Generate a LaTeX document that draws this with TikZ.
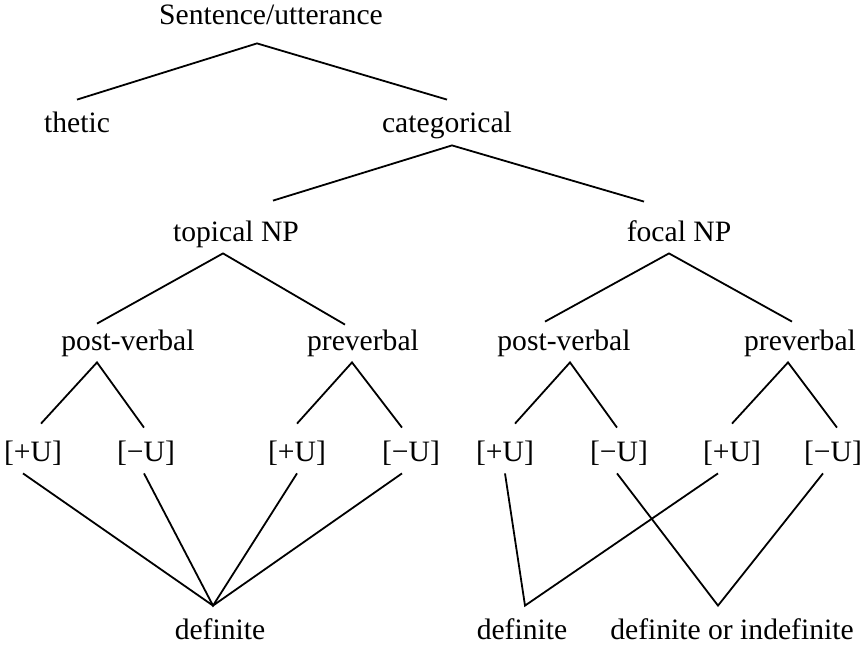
\documentclass[tikz,border=0pt]{standalone}
\usepackage{fontspec}
\setmainfont{Liberation Serif}

\tikzset{
  lbl/.style={anchor=base, inner sep=0pt, text height=16pt, text depth=6.5pt, font=\fontsize{14.8}{17}\selectfont},
  branch/.style={line width=0.9pt, line join=miter}
}

\begin{document}
\begin{tikzpicture}[x=0.5pt, y=-0.5pt]
    \useasboundingbox (0,0) rectangle (862,647);

    % Upper levels
    \node[lbl] (sent) at (271,25) {Sentence/utterance};
    \node[lbl] (thetic) at (77,133) {thetic};
    \node[lbl] (cat) at (447,133) {categorical};
    \node[lbl] (topNP) at (236,241) {topical NP};
    \node[lbl] (focNP) at (679,241) {focal NP};
    \node[lbl] (postA) at (128,350) {post-verbal};
    \node[lbl] (preA) at (363,350) {preverbal};
    \node[lbl] (postB) at (564,350) {post-verbal};
    \node[lbl] (preB) at (800,350) {preverbal};

    % Feature level
    \node[lbl] (uA1) at (33,461) {[+U]};
    \node[lbl] (uA2) at (146,461) {[−U]};
    \node[lbl] (uA3) at (297,461) {[+U]};
    \node[lbl] (uA4) at (411,461) {[−U]};
    \node[lbl] (uB1) at (505,461) {[+U]};
    \node[lbl] (uB2) at (619,461) {[−U]};
    \node[lbl] (uB3) at (732,461) {[+U]};
    \node[lbl] (uB4) at (833,461) {[−U]};

    % Readings
    \node[lbl] (defA) at (220,639) {definite};
    \node[lbl] (defB) at (522,639) {definite};
    \node[lbl] (defC) at (732,639) {definite or indefinite};

    % Tree branches
    \draw[branch] ([yshift=0.5pt]thetic.north) -- ([xshift=-7pt,yshift=-2.5pt]sent.south) -- ([yshift=0.5pt]cat.north);
    \draw[branch] ([xshift=18.5pt,yshift=4pt]topNP.north) -- ([xshift=2.5pt,yshift=0.5pt]cat.south) -- ([xshift=-17.5pt,yshift=3.5pt]focNP.north);
    \draw[branch] ([xshift=-15.5pt,yshift=-3pt]postA.north) -- ([xshift=-6.5pt,yshift=0.5pt]topNP.south) -- ([xshift=-9pt,yshift=-3.5pt]preA.north);
    \draw[branch] ([xshift=-9.5pt,yshift=-2pt]postB.north) -- ([xshift=-5pt,yshift=0.5pt]focNP.south) -- ([xshift=-4pt,yshift=-2pt]preB.north);

    \draw[branch] ([xshift=4pt,yshift=2.5pt]uA1.north) -- ([xshift=-15.5pt,yshift=0.5pt]postA.south) -- ([xshift=-1pt,yshift=0.5pt]uA2.north);
    \draw[branch] ([yshift=2.5pt]uA3.north) -- ([xshift=-5.5pt,yshift=0.5pt]preA.south) -- ([xshift=-4.5pt,yshift=0.5pt]uA4.north);
    \draw[branch] ([xshift=5pt,yshift=2.5pt]uB1.north) -- ([xshift=3pt,yshift=0.5pt]postB.south) -- ([xshift=-1pt,yshift=0.5pt]uB2.north);
    \draw[branch] ([yshift=2.5pt]uB3.north) -- ([xshift=-6pt,yshift=0.5pt]preB.south) -- ([xshift=2pt,yshift=0.5pt]uB4.north);

    % Links to readings
    \draw[branch] ([xshift=-5pt,yshift=0.5pt]uA1.south) -- ([xshift=-3.5pt,yshift=0.5pt]defA.north) -- ([xshift=-4.5pt,yshift=0.5pt]uA4.south);
    \draw[branch] ([xshift=-1pt,yshift=0.5pt]uA2.south) -- ([xshift=-3.5pt,yshift=0.5pt]defA.north) -- ([yshift=0.5pt]uA3.south);
    \draw[branch] ([yshift=0.5pt]uB1.south) -- ([xshift=1.5pt,yshift=0.5pt]defB.north) -- ([xshift=-7pt,yshift=0.5pt]uB3.south);
    \draw[branch] ([xshift=-1pt,yshift=0.5pt]uB2.south) -- ([xshift=-7pt,yshift=0.5pt]defC.north) -- ([xshift=-5pt,yshift=0.5pt]uB4.south);
\end{tikzpicture}
\end{document}
